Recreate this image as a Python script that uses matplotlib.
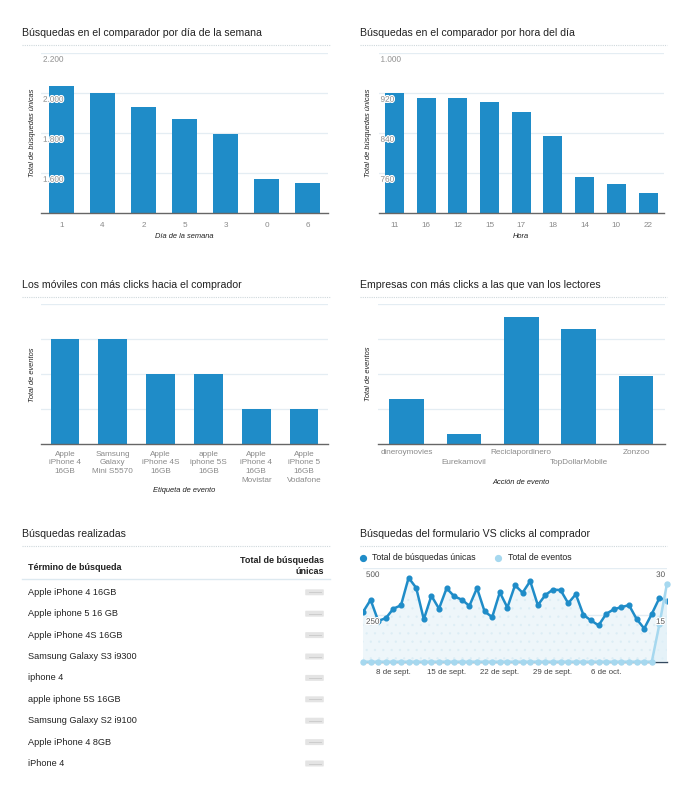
import numpy as np
import pandas as pd
import matplotlib
matplotlib.use('Agg')
import matplotlib.pyplot as plt
from matplotlib.patches import FancyBboxPatch
import matplotlib.patheffects as pe

W, H = 687, 793
plt.rcParams['font.family'] = ['Liberation Sans', 'DejaVu Sans']
plt.rcParams['hatch.linewidth'] = 0.4

# ---------------- data ----------------
day_cats = ['1', '4', '2', '5', '3', '0', '6']
day_vals = [2038, 2000, 1930, 1872, 1795, 1572, 1552]
day_yticks = [1600, 1800, 2000, 2200]
day_ytick_labels = ['1.600', '1.800', '2.000', '2.200']

hour_cats = ['11', '16', '12', '15', '17', '18', '14', '10', '22']
hour_vals = [921, 911, 910, 903, 882, 835, 753, 739, 720]
hour_yticks = [760, 840, 920, 1000]
hour_ytick_labels = ['760', '840', '920', '1.000']

phone_cats = ['Apple\niPhone 4\n16GB', 'Samsung\nGalaxy\nMini S5570',
              'Apple\niPhone 4S\n16GB', 'apple\niphone 5S\n16GB',
              'Apple\niPhone 4\n16GB\nMovistar', 'Apple\niPhone 5\n16GB\nVodafone']
phone_vals = [3, 3, 2, 2, 1, 1]
phone_yticks = [1, 2, 3, 4]

company_cats = ['dineroymovies', 'Eurekamovil', 'Reciclapordinero',
                'TopDollarMobile', 'Zonzoo']
company_vals = [13, 3, 36.5, 33, 19.5]
company_yticks = [10, 20, 30, 40]

search_terms = ['Apple iPhone 4 16GB', 'Apple iphone 5 16 GB', 'Apple iPhone 4S 16GB',
                'Samsung Galaxy S3 i9300', 'iphone 4', 'apple iphone 5S 16GB',
                'Samsung Galaxy S2 i9100', 'Apple iPhone 4 8GB', 'iPhone 4']
search_header = ['Término de búsqueda', 'Total de búsquedas\núnicas']

dates = pd.date_range('2013-09-04', '2013-10-14')
unique_searches = [265, 330, 218, 232, 283, 301, 448, 394, 226, 352, 283, 392, 349,
                   331, 298, 393, 268, 238, 370, 289, 408, 368, 430, 302, 356, 385,
                   382, 312, 360, 250, 220, 194, 255, 280, 291, 302, 228, 177, 255,
                   340, 326]
events = [0, 0, 0, 0, 0, 0, 0, 0, 0, 0, 0, 0, 0, 0, 0, 0, 0, 0, 0, 0, 0, 0, 0, 0,
          0, 0, 0, 0, 0, 0, 0, 0, 0, 0, 0, 0, 0, 0, 0, 12, 25]
date_ticks = ['2013-09-08', '2013-09-15', '2013-09-22', '2013-09-29', '2013-10-06']
date_tick_labels = ['8 de sept.', '15 de sept.', '22 de sept.', '29 de sept.', '6 de oct.']

# ---------------- style ----------------
BLUE = '#1f8cc8'
LIGHT = '#a6d8ef'
GRID = '#e4edf3'
TICKC = '#8a8a8a'
TITLEC = '#222222'
HALO = [pe.withStroke(linewidth=1.6, foreground='white')]

fig = plt.figure(figsize=(W / 100, H / 100), dpi=100)
fig.patch.set_facecolor('white')

ov = fig.add_axes([0, 0, 1, 1])
ov.set_xlim(0, W)
ov.set_ylim(H, 0)
ov.axis('off')
ov.patch.set_visible(False)


def px_axes(x0, y0, x1, y1):
    a = fig.add_axes([x0 / W, 1 - y1 / H, (x1 - x0) / W, (y1 - y0) / H])
    a.patch.set_visible(False)
    return a


def header(x0, x1, y, text):
    ov.text(x0, y, text, fontsize=7.6, color=TITLEC, va='center', ha='left')
    ov.plot([x0, x1], [y + 12, y + 12], color='#cfd8dc', lw=0.8, ls=(0, (1, 1)))


def bar_chart(rect, cats, vals, ylim, yticks, ytlabels, xlabel, ylabel,
              ylabel_x, xlabel_y, tick_pad, stagger=False):
    x0, y0, x1, y1 = rect
    ax = px_axes(x0, y0, x1, y1)
    pos = np.arange(len(cats))
    ax.bar(pos, vals, width=0.6, color=BLUE, zorder=2)
    ax.set_xlim(-0.5, len(cats) - 0.5)
    ax.set_ylim(*ylim)
    for v in yticks:
        ax.axhline(v, color=GRID, lw=0.9, zorder=1)
    for s in ['left', 'right', 'top']:
        ax.spines[s].set_visible(False)
    ax.spines['bottom'].set_color('#666666')
    ax.spines['bottom'].set_linewidth(1.0)
    ax.set_yticks([])
    ax.set_xticks(pos)
    if stagger:
        ax.set_xticklabels([])
        for i, c in enumerate(cats):
            ax.annotate(c, xy=(i, 0), xycoords=('data', 'axes fraction'),
                        xytext=(0, -9 - (10 if i % 2 else 0)), textcoords='offset pixels',
                        ha='center', va='center', fontsize=5.9, color=TICKC)
    else:
        ax.set_xticklabels(cats, fontsize=5.9, color=TICKC, va='top', linespacing=1.38)
    ax.tick_params(axis='x', length=0, pad=tick_pad)
    if ytlabels is not None:
        for v, lab in zip(yticks, ytlabels):
            ax.annotate(lab, xy=(0, v), xycoords=('axes fraction', 'data'),
                        xytext=(2, -7), textcoords='offset pixels',
                        ha='left', va='center', fontsize=5.9, color=TICKC, zorder=5,
                        path_effects=HALO)
    ov.text((x0 + x1) / 2, xlabel_y, xlabel, fontsize=5.4, style='italic',
            color='#222222', ha='center', va='center')
    ov.text(ylabel_x, (y0 + y1) / 2, ylabel, fontsize=5.4, style='italic',
            color='#222222', ha='center', va='center', rotation=90)
    return ax


# ---------- top-left ----------
header(22, 330, 33, 'Búsquedas en el comparador por día de la semana')
bar_chart((41, 53.3, 328, 213.3), day_cats, day_vals, (1400, 2200), day_yticks,
          day_ytick_labels, 'Día de la semana', 'Total de búsquedas únicas',
          32, 237, 6)

# ---------- top-right ----------
header(360, 667, 33, 'Búsquedas en el comparador por hora del día')
bar_chart((378.5, 53.3, 664, 213.3), hour_cats, hour_vals, (680, 1000), hour_yticks,
          hour_ytick_labels, 'Hora', 'Total de búsquedas únicas',
          369, 237, 6)

# ---------- middle-left ----------
header(22, 330, 285, 'Los móviles con más clicks hacia el comprador')
bar_chart((41, 304.3, 328, 444.3), phone_cats, phone_vals, (0, 4), phone_yticks,
          None, 'Etiqueta de evento', 'Total de eventos',
          32.5, 490, 4.5)

# ---------- middle-right ----------
header(360, 667, 285, 'Empresas con más clicks a las que van los lectores')
bar_chart((378, 304.3, 664.7, 444), company_cats, company_vals, (0, 40), company_yticks,
          None, 'Acción de evento', 'Total de eventos',
          369, 482, 6, stagger=True)

# ---------- bottom-left table ----------
header(22, 330, 534, 'Búsquedas realizadas')
ov.text(28, 567, search_header[0], fontsize=6.5, weight='bold', color='#222222',
        ha='left', va='center')
ov.text(324, 566, search_header[1], fontsize=6.5, weight='bold', color='#222222',
        ha='right', va='center', linespacing=1.25)
ov.plot([22, 330], [579, 579], color='#dde9f0', lw=1.0)
for i, term in enumerate(search_terms):
    y = 592.3 + i * 21.4
    ov.text(28, y, term, fontsize=6.6, color='#222222', ha='left', va='center')
    ov.add_patch(FancyBboxPatch((306, y - 2.2), 17, 4.4, boxstyle='round,pad=0.8',
                                facecolor='#dcdcdc', edgecolor='none', alpha=0.75))
    ov.plot([309, 321], [y, y], color='#bdbdbd', lw=0.7, alpha=0.6)

# ---------- bottom-right line chart ----------
header(360, 667, 534, 'Búsquedas del formulario VS clicks al comprador')
ov.plot([362.7], [557.7], 'o', color=BLUE, ms=4.2)
ov.text(372, 557.7, 'Total de búsquedas únicas', fontsize=6.3, color='#222222',
        ha='left', va='center')
ov.plot([498], [557.7], 'o', color=LIGHT, ms=4.2)
ov.text(508, 557.7, 'Total de eventos', fontsize=6.3, color='#222222',
        ha='left', va='center')

lx0, ly0, lx1, ly1 = 363, 568, 667, 661.7
axl = px_axes(lx0, ly0, lx1, ly1)
axr = axl.twinx()
axr.patch.set_visible(False)
axl.set_ylim(0, 500)
axr.set_ylim(0, 30)
axl.set_xlim(dates[0], dates[-1])
axl.axhline(500, color=GRID, lw=1.0, zorder=0)
axl.axhline(250, color=GRID, lw=1.0, zorder=0)
axl.fill_between(dates, unique_searches, 0, facecolor='#eef6fa', edgecolor='#dcedf5',
                 hatch='..', linewidth=0, zorder=1)
axl.plot(dates, unique_searches, color=BLUE, lw=1.8, marker='o', ms=3.4, zorder=3,
         clip_on=True)
axr.fill_between(dates, events, 0, facecolor='#dff0f8', alpha=0.6, linewidth=0, zorder=1)
axr.plot(dates, events, color=LIGHT, lw=1.8, marker='o', ms=3.6, zorder=3,
         clip_on=False)
for a in (axl, axr):
    for s in ['left', 'right', 'top']:
        a.spines[s].set_visible(False)
    a.set_yticks([])
axl.spines['bottom'].set_color('#34495e')
axl.spines['bottom'].set_linewidth(1.0)
axr.spines['bottom'].set_visible(False)
axl.set_xticks(pd.to_datetime(date_ticks))
axl.set_xticklabels(date_tick_labels, fontsize=5.7, color='#444444')
axl.tick_params(axis='x', length=0, pad=5)
for v, lab in [(500, '500'), (250, '250')]:
    axl.annotate(lab, xy=(0, v), xycoords=('axes fraction', 'data'),
                 xytext=(3, -7.5), textcoords='offset pixels',
                 ha='left', va='center', fontsize=5.8, color='#555555', zorder=6,
                 path_effects=HALO)
for v, lab in [(30, '30'), (15, '15')]:
    axr.annotate(lab, xy=(1, v), xycoords=('axes fraction', 'data'),
                 xytext=(-2, -7.5), textcoords='offset pixels',
                 ha='right', va='center', fontsize=5.8, color='#555555', zorder=6,
                 path_effects=HALO)

fig.savefig('out.png', dpi=100, facecolor='white')
